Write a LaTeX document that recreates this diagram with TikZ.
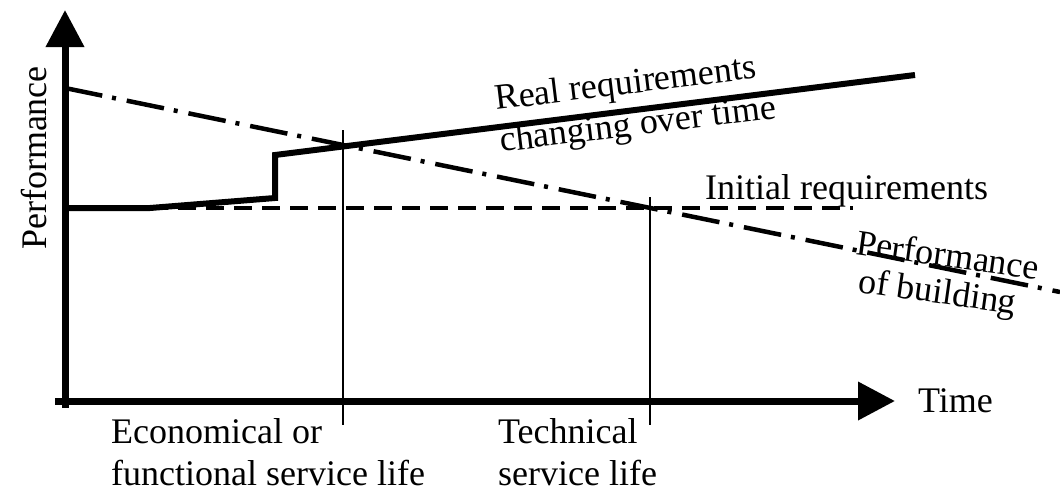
\documentclass[tikz,border=0pt]{standalone}
\usepackage{fontspec}
\setmainfont{Liberation Serif}
\usetikzlibrary{arrows.meta}
\begin{document}
\begin{tikzpicture}[x=1pt,y=-1pt,
  axis/.style={line width=7pt,-{Triangle[length=37pt,width=37pt]}},
  reqline/.style={line width=6pt,line join=miter},
  initline/.style={line width=4.5pt,dash pattern=on 18pt off 10pt},
  perfline/.style={line width=4.5pt,dash pattern=on 38pt off 10pt on 4pt off 11pt},
  marker/.style={line width=1.3pt},
  lbl/.style={inner sep=0pt,font=\fontsize{36}{43}\selectfont}]
\useasboundingbox (0,0) rectangle (1060,491);
% coordinates
\coordinate (yb) at (65,408);
\coordinate (yt) at (65,10);
\coordinate (xb) at (55,401);
\coordinate (xt) at (895,401);
\coordinate (r0) at (65,208);
\coordinate (r1) at (150,208);
\coordinate (r2) at (275,198);
\coordinate (r3) at (275,155);
\coordinate (r4) at (915,75);
\coordinate (i0) at (150,208);
\coordinate (i1) at (853,208);
\coordinate (p0) at (65,88);
\coordinate (p1) at (1060,292);
\coordinate (m1t) at (343,130);
\coordinate (m1b) at (343,425);
\coordinate (m2t) at (650,197);
\coordinate (m2b) at (650,425);
% lines
\draw[initline] (i0) -- (i1);
\draw[perfline] (p0) -- (p1);
\draw[reqline] (r0) -- (r1) -- (r2) -- (r3) -- (r4);
\draw[marker] (m1t) -- (m1b);
\draw[marker] (m2t) -- (m2b);
\draw[axis] (yb) -- (yt);
\draw[axis] (xb) -- (xt);
% labels
\node[lbl,rotate=90,anchor=center] (perf) at (34,158) {Performance};
\node[lbl,anchor=west] (time) at (918,401) {Time};
\node[lbl,rotate=7,anchor=base west] (real1) at (496,110) {Real requirements};
\node[lbl,rotate=7,anchor=base west] (real2) at (501,152) {changing over time};
\node[lbl,anchor=base west] (init) at (705,199) {Initial requirements};
\node[lbl,rotate=-8,anchor=base west] (pb1) at (855,254) {Performance};
\node[lbl,rotate=-8,anchor=base west] (pb2) at (857,292) {of building};
\node[lbl,anchor=base west] (eco1) at (111,443) {Economical or};
\node[lbl,anchor=base west] (eco2) at (111,485) {functional service life};
\node[lbl,anchor=base west] (tec1) at (498,443) {Technical};
\node[lbl,anchor=base west] (tec2) at (498,485) {service life};
\end{tikzpicture}
\end{document}
